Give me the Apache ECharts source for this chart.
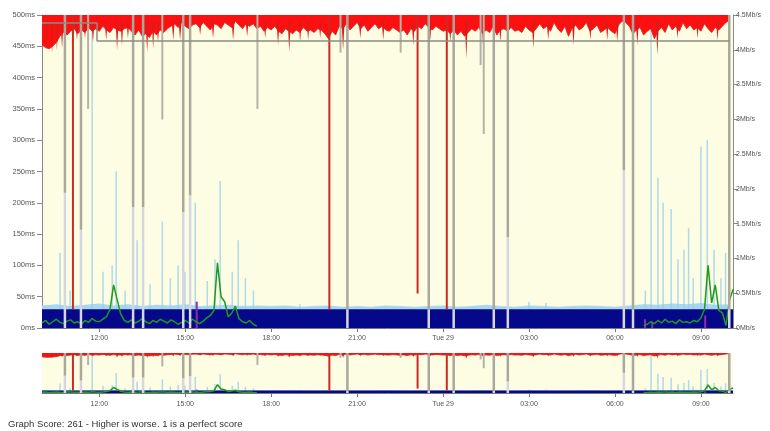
<!DOCTYPE html>
<html>
<head>
<meta charset="utf-8">
<script src="https://cdn.jsdelivr.net/npm/echarts@6/dist/echarts.min.js"></script>
<style>
html, body { margin: 0; padding: 0; background: #fff; }
#chart { width: 770px; height: 431px; }
</style>
</head>
<body>
<div id="chart"></div>
<script>
// x = hours since Monday 00:00 (24 = Tue 29 00:00)
const tStart = 10;
const tEnd = 34.12;
const tickHours = [12, 15, 18, 21, 24, 27, 30, 33];

// packet loss (red, drawn from the top) - lower edge in ms, one value every 7.5 min from 10:00
const lossStep = 0.125;
const lossEdge = [
	452, 448, 446, 450, 456,
	466, 472, 468,
	474, 478, 470, 476, 472, 480, 474,
	478, 474, 482, 476, 472, 480, 476, 474, 478,
	480, 474, 468, 476, 466, 470, 464, 474, 468, 476, 472, 478,
	482, 486, 480, 488, 482, 478, 484,
	486, 480, 488, 482, 476, 486, 484, 478, 488, 484, 480, 490, 484, 478, 486, 482, 486,
	478, 482, 474, 480, 476, 482, 474, 470,
	478, 474, 470, 476, 472, 480, 474, 476, 472, 478, 476,
	470, 462, 474, 468,
	482, 478, 486, 476, 482, 488, 478, 484, 474, 480, 486, 478, 482, 476, 474, 480, 476,
	472, 476, 468, 478, 474, 482, 478, 486, 480, 476, 482, 478, 474,
	476, 470, 476, 468, 474, 466, 472,
	478, 474, 480, 470, 476, 472, 482, 468, 476, 478, 474,
	480, 474, 476, 472, 482, 476, 472, 478,
	486, 478, 482, 474, 488, 478, 472, 482, 466, 478, 484, 476, 480, 488, 474, 478, 484, 472, 476, 480, 474, 470,
	484, 490, 488, 482,
	470, 476, 480, 468, 474, 478, 462, 474, 480, 472, 486, 476, 482, 474, 488, 478, 484, 476, 480, 474, 486, 478, 472, 480, 476, 482,
	488, 492,
];

// narrow loss spikes hanging from the red band: time (h) and lowest point (ms)
const lossSpikeTimes = [
	10.17, 10.35, 10.52, 10.7, 11.22, 11.5, 11.78, 12.24, 12.62, 12.79, 13.0, 13.67, 13.88, 14.05,
	14.58, 14.82, 15.52, 15.97, 16.67, 17.16, 17.79, 18.24, 18.63, 19.01, 19.29, 19.71, 20.51,
	21.11, 21.91, 22.96, 23.55, 24.25, 24.81, 25.4, 26.0, 27.15, 27.67, 28.55, 29.14, 29.73,
	30.08, 30.78, 31.48, 32.18, 32.88, 33.58,
];
const lossSpikeLow = [
	444, 439, 444, 447, 460, 463, 457, 460, 444, 452, 463, 441, 447, 457,
	460, 460, 468, 463, 460, 466, 463, 452, 441, 457, 460, 463, 444,
	463, 460, 452, 460, 457, 431, 447, 457, 447, 460, 452, 460, 460,
	457, 452, 436, 463, 463, 460,
];

// min latency band (navy) and its light blue fringe, ms
const bandTimes = [10, 34.12];
const bandTop = [30, 30];
const fringeStep = 0.5;
const fringeTop = [
	36, 38, 35, 37, 39, 36, 38, 35, 37, 36, 38, 35, 36, 37, 35, 36, 35,
	36, 34, 35, 36, 34, 35, 34, 36, 35, 34, 35, 36, 34, 35, 37, 35,
	34, 36, 35, 34, 35, 36, 35, 34, 36, 38, 37, 39, 38, 40, 37, 38,
];

// average latency (green), ms, every 7.5 min
const greenStep = 0.125;
const greenLeftStart = 10;
const greenLeft = [
	8, 12, 6, 10, 14, 9, 7, 11, 13, 8, 10, 6, 12, 9, 15, 11,
	10, 14, 18, 30, 69, 45, 22, 12,
	9, 13, 8, 11, 15, 10, 7, 12, 9, 14, 11, 8, 13, 10, 6, 9,
	12, 8, 14, 10, 7, 11, 16, 20,
	28, 104, 50, 42, 18, 24, 35, 15,
	10, 8, 12, 6, 3,
];
const greenRightStart = 31;
const greenRight = [
	4, 6, 10, 7, 12, 8, 14, 9, 11, 7, 13, 9, 10, 8, 12, 10,
	16, 30, 100, 40, 69, 28, 24, 4, 45, 62,
];

// max latency spikes (light blue), ms
const blueTimes = [10.63, 10.98, 11.75, 12.13, 12.45, 12.59, 12.9, 13.32, 13.77, 14.2, 14.48, 14.75, 14.99,
	15.35, 15.77, 16.04, 16.22, 16.64, 16.85, 17.1, 17.38,
	19.0, 27.0, 27.59,
	31.06, 31.26, 31.5, 31.68, 31.96, 32.2, 32.41, 32.57, 32.73, 33.0, 33.22, 33.46, 33.7, 33.86];
const blueHeights = [120, 60, 500, 90, 100, 250, 60, 140, 70, 170, 80, 100, 90,
	200, 75, 110, 235, 90, 140, 80, 60,
	38, 42, 40,
	60, 500, 240, 200, 190, 110, 125, 160, 80, 290, 300, 125, 80, 120];

// outages (grey): light below, darker grey above
const gapTimes = [10.8, 11.36, 13.18, 13.53, 14.93, 15.17, 20.66, 23.5, 24.37, 25.77, 26.26, 30.31, 30.63, 33.99];
const gapDark = [216, 157, 193, 193, 185, 212, 30, 30, 30, 30, 145, 252, 30, 30];

// short grey drops from the top
const partTimes = [11.61, 14.2, 17.52, 20.42, 22.52, 25.31, 25.42];
const partLow = [350, 333, 350, 440, 440, 420, 310];

// full loss spikes (red)
const redTimes = [11.08, 20.03, 23.11, 24.13];
const redLow = [30, 30, 55, 30];

// purple marks near the floor
const purpleTimes = [15.4, 31.05, 31.3, 33.15];
const purpleHeights = [42, 14, 10, 20];

// line throughput (grey step line, right axis, Mb/s)
const speedTimes = [10, 11.92, 34.0];
const speedValues = [4.385, 4.125, 4.125];

const fmtHour = (v) => (v === 24 ? "Tue 29" : String(v % 24).padStart(2, "0") + ":00");

// vertical bar from value(1) to value(2)
const vbar = (w) => (params, api) => {
	const top = api.coord([api.value(0), api.value(2)]);
	const bot = api.coord([api.value(0), api.value(1)]);
	return {
		type: "rect",
		shape: { x: top[0] - w / 2, y: top[1], width: w, height: bot[1] - top[1] },
		style: api.style(),
	};
};

// tapering spike: wide at value(2), pointed at value(1)
const vspike = (w) => (params, api) => {
	const top = api.coord([api.value(0), api.value(2)]);
	const bot = api.coord([api.value(0), api.value(1)]);
	return {
		type: "polygon",
		shape: { points: [[top[0] - w / 2, top[1]], [top[0] + w / 2, top[1]], [bot[0], bot[1]]] },
		style: api.style(),
	};
};

const custom = (xi, yi, render, color, data, z) => ({
	type: "custom",
	xAxisIndex: xi,
	yAxisIndex: yi,
	renderItem: render,
	encode: { x: 0, y: [1, 2] },
	itemStyle: { color },
	clip: true,
	silent: true,
	z,
	data,
});

const buildSeries = (xi, yi) => [
	{
		type: "line",
		xAxisIndex: xi,
		yAxisIndex: yi,
		showSymbol: false,
		lineStyle: { width: 0 },
		areaStyle: { color: "#a9d6f0", opacity: 1 },
		z: 1,
		data: fringeTop.map((v, i) => [tStart + i * fringeStep, v]),
	},
	custom(xi, yi, vbar(1.5), "rgba(150,205,235,0.75)", blueTimes.map((t, i) => [t, 0, blueHeights[i]]), 2),
	{
		type: "line",
		xAxisIndex: xi,
		yAxisIndex: yi,
		showSymbol: false,
		lineStyle: { width: 0 },
		areaStyle: { color: "#06088a", opacity: 1 },
		z: 3,
		data: bandTimes.map((t, i) => [t, bandTop[i]]),
	},
	{
		type: "line",
		xAxisIndex: xi,
		yAxisIndex: yi,
		showSymbol: false,
		connectNulls: false,
		lineStyle: { color: "#1f9a1f", width: 1.5 },
		z: 5,
		data: [
			...greenLeft.map((v, i) => [greenLeftStart + i * greenStep, v]),
			[greenLeftStart + greenLeft.length * greenStep, null],
			...greenRight.map((v, i) => [greenRightStart + i * greenStep, v]),
		],
	},
	custom(xi, yi, vbar(2), "#8a2fa8", purpleTimes.map((t, i) => [t, 0, purpleHeights[i]]), 5),
	{
		type: "line",
		xAxisIndex: xi,
		yAxisIndex: yi,
		showSymbol: false,
		lineStyle: { color: "#d02020", width: 0.8 },
		areaStyle: { color: "#ff1010", opacity: 1, origin: "end" },
		z: 4,
		data: lossEdge.map((v, i) => [tStart + i * lossStep, v]),
	},
	custom(xi, yi, vspike(3), "#dc1a1a", lossSpikeTimes.map((t, i) => [t, lossSpikeLow[i], 490]), 4),
	custom(xi, yi, vbar(2.5), "#d6d6e2", gapTimes.map((t, i) => [t, 0, gapDark[i]]), 6),
	custom(xi, yi, vbar(2.5), "#aaa89c", gapTimes.map((t, i) => [t, gapDark[i], 500]), 6),
	custom(xi, yi, vbar(2), "#b4b2a6", partTimes.map((t, i) => [t, partLow[i], 500]), 6),
	custom(xi, yi, vbar(2), "#cc2a22", redTimes.map((t, i) => [t, redLow[i], 500]), 7),
];

const xAxisBase = (gi, margin) => ({
	type: "value",
	gridIndex: gi,
	min: tStart,
	max: tEnd,
	axisLine: { show: true, lineStyle: { color: "#777" } },
	axisTick: { show: true, customValues: tickHours, length: 4, lineStyle: { color: "#777" } },
	axisLabel: {
		customValues: tickHours,
		formatter: fmtHour,
		fontSize: 7,
		color: "#555",
		margin,
		fontFamily: "Liberation Sans",
	},
	splitLine: { show: false },
});

const myChart = echarts.init(document.querySelector("#chart"));

myChart.setOption({
	animation: false,
	backgroundColor: "#fff",
	grid: [
		{ left: 42, right: 37, top: 15, bottom: 103, show: true, backgroundColor: "#fdfde3", borderWidth: 0 },
		{ left: 42, right: 37, top: 353, bottom: 38, show: true, backgroundColor: "#fdfde3", borderWidth: 0 },
	],
	xAxis: [xAxisBase(0, 7), xAxisBase(1, 8)],
	yAxis: [
		{
			type: "value",
			gridIndex: 0,
			min: 0,
			max: 500,
			interval: 50,
			axisLine: { show: true, lineStyle: { color: "#888" } },
			axisTick: { show: true, length: 5, lineStyle: { color: "#888" } },
			axisLabel: { formatter: "{value}ms", fontSize: 7.5, color: "#555", margin: 7, fontFamily: "Liberation Sans" },
			splitLine: { show: false },
		},
		{
			type: "value",
			gridIndex: 0,
			position: "right",
			min: 0,
			max: 4.5,
			interval: 0.5,
			axisLine: { show: true, lineStyle: { color: "#888" } },
			axisTick: { show: true, length: 5, lineStyle: { color: "#888" } },
			axisLabel: { formatter: "{value}Mb/s", fontSize: 7, color: "#555", margin: 3, fontFamily: "Liberation Sans" },
			splitLine: { show: false },
		},
		{
			type: "value",
			gridIndex: 1,
			min: 0,
			max: 500,
			show: false,
		},
	],
	series: [
		...buildSeries(0, 0),
		{
			type: "line",
			xAxisIndex: 0,
			yAxisIndex: 1,
			step: "end",
			showSymbol: false,
			lineStyle: { color: "#8c8c80", width: 1.5 },
			z: 8,
			data: speedTimes.map((t, i) => [t, speedValues[i]]),
		},
		...buildSeries(1, 2),
	],
	graphic: [
		{
			type: "text",
			left: 8,
			top: 419,
			style: {
				text: "Graph Score: 261 - Higher is worse. 1 is a perfect score",
				fontSize: 9.5,
				fill: "#333",
				fontFamily: "Liberation Sans",
			},
		},
	],
});
</script>
</body>
</html>
